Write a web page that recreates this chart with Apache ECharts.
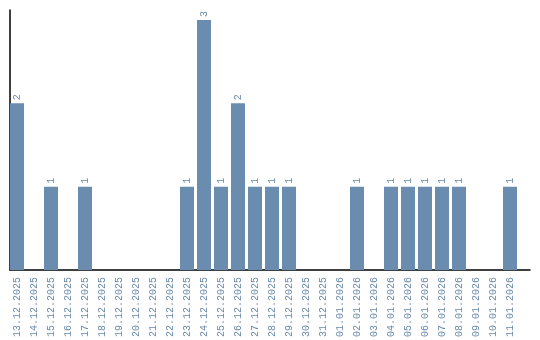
<!DOCTYPE html>
<html><head><meta charset="utf-8">
<script src="https://cdn.jsdelivr.net/npm/echarts@6/dist/echarts.min.js"></script>
<style>html,body{margin:0;padding:0;background:#fff}#c{width:540px;height:340px}</style>
</head><body><div id="c"></div>
<script>
var categories = ["13.12.2025","14.12.2025","15.12.2025","16.12.2025","17.12.2025","18.12.2025","19.12.2025","20.12.2025","21.12.2025","22.12.2025","23.12.2025","24.12.2025","25.12.2025","26.12.2025","27.12.2025","28.12.2025","29.12.2025","30.12.2025","31.12.2025","01.01.2026","02.01.2026","03.01.2026","04.01.2026","05.01.2026","06.01.2026","07.01.2026","08.01.2026","09.01.2026","10.01.2026","11.01.2026"];
var values = [2,0,1,0,1,0,0,0,0,0,1,3,1,2,1,1,1,0,0,0,1,0,1,1,1,1,1,0,0,1];
var chart = echarts.init(document.getElementById('c'));
chart.setOption({
  animation:false,
  grid:[{left:8.5,right:21.5,top:10,bottom:70},{left:10,right:10,top:10,bottom:70}],
  xAxis:[{type:'category',data:categories,gridIndex:0,
    axisLine:{show:false},
    axisTick:{show:false},
    axisLabel:{rotate:90,interval:0,color:'#6a8aaa',fontFamily:'Liberation Mono',fontSize:10,margin:7}},
    {type:'value',gridIndex:1,min:0,max:1,axisLine:{show:true,onZero:false,lineStyle:{color:'#000',width:1.5}},
     axisTick:{show:false},axisLabel:{show:false},splitLine:{show:false}}],
  yAxis:[{type:'value',gridIndex:0,min:0,max:3.12,
    axisLine:{show:false},
    axisTick:{show:false},axisLabel:{show:false},splitLine:{show:false}},
    {type:'value',gridIndex:1,min:0,max:1,
    axisLine:{show:true,onZero:false,lineStyle:{color:'#000',width:1.5}},
    axisTick:{show:false},axisLabel:{show:false},splitLine:{show:false}}],
  series:[{type:'bar',data:values,barWidth:14,xAxisIndex:0,yAxisIndex:0,z:5,
    itemStyle:{color:'#6a8caf'},
    label:{show:true,position:'top',rotate:90,align:'left',verticalAlign:'middle',distance:3,
      color:'#6a8aaa',fontFamily:'Liberation Mono',fontSize:10,
      formatter:function(p){return p.value>0?String(p.value):'';}}}]
});
</script></body></html>
